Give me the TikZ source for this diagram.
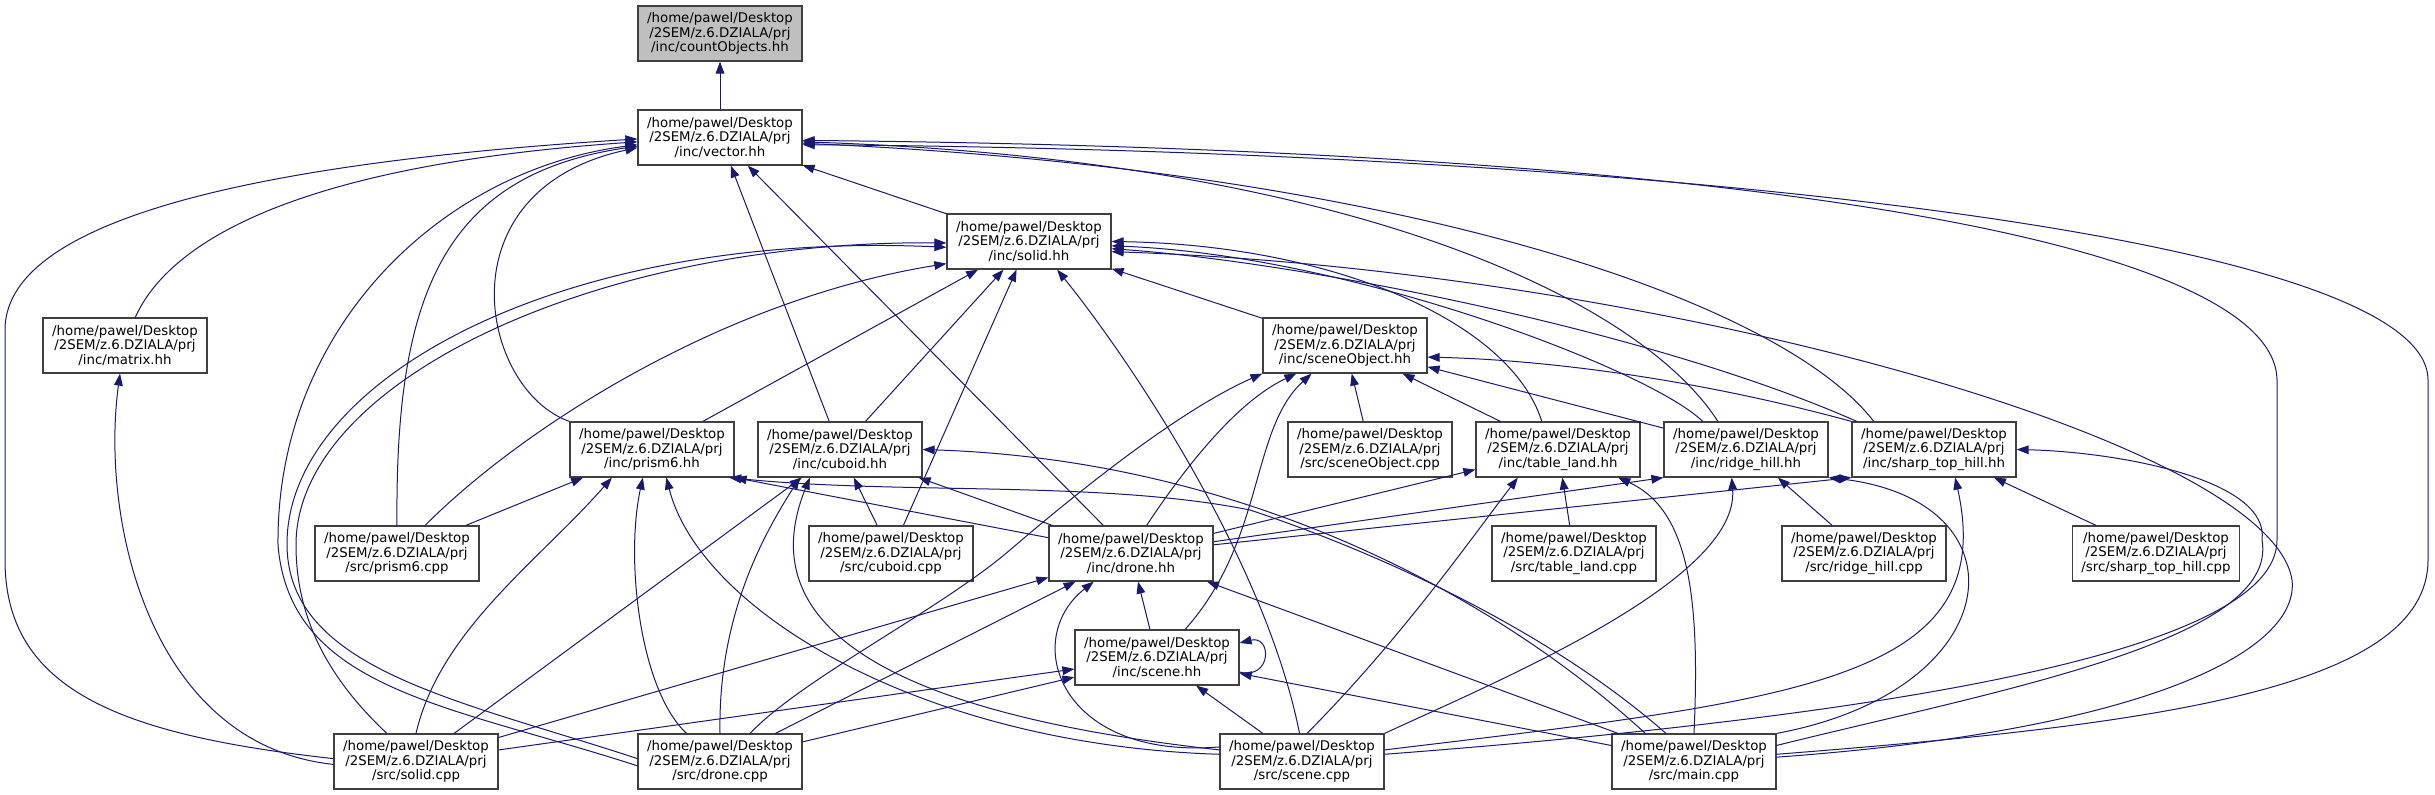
\documentclass[tikz,border=0pt]{standalone}
\usepackage{fontspec}
\setmainfont{DejaVu Sans}
\usetikzlibrary{arrows.meta}

\definecolor{deplink}{HTML}{191970}
\definecolor{boxedge}{HTML}{404040}
\definecolor{boxfill}{HTML}{BFBFBF}

\begin{document}
\begin{tikzpicture}[x=0.75pt, y=-0.75pt,
    file/.style={draw=boxedge, line width=0.9pt, fill=white, align=center,
        minimum width=123pt, minimum height=41.25pt, inner xsep=6.5pt,
        font=\fontsize{10}{10.7}\selectfont},
    dep/.style={draw=deplink, line width=0.75pt, -{Triangle[length=9pt, width=6.5pt]}}]

\useasboundingbox[fill=white] (0,0) rectangle (2435,795);

\node[file, fill=boxfill] (countobj) at (720,33.5) {/home/pawel/Desktop\\/2SEM/z.6.DZIALA/prj\\/inc/countObjects.hh};

\foreach \n/\x/\y/\fdir/\fname in {
    vectorhh/720/137.5/inc/vector.hh, solidhh/1029/241.5/inc/solid.hh,
    matrixhh/125/345.5/inc/matrix.hh, sceneobjhh/1345/345.5/inc/sceneObject.hh,
    prismhh/652/449.5/inc/prism6.hh, cuboidhh/840/449.5/inc/cuboid.hh,
    sceneobjcpp/1370/449.5/src/sceneObject.cpp, tablehh/1558/449.5/inc/table\_land.hh,
    ridgehh/1746/449.5/inc/ridge\_hill.hh, sharphh/1934/449.5/inc/sharp\_top\_hill.hh,
    prismcpp/397/553.5/src/prism6.cpp, cuboidcpp/891/553.5/src/cuboid.cpp,
    dronehh/1131/553.5/inc/drone.hh, tablecpp/1574/553.5/src/table\_land.cpp,
    ridgecpp/1864/553.5/src/ridge\_hill.cpp, sharpcpp/2156/553.5/src/sharp\_top\_hill.cpp,
    scenehh/1157/657.5/inc/scene.hh, solidcpp/416/761.5/src/solid.cpp,
    dronecpp/720/761.5/src/drone.cpp, scenecpp/1302/761.5/src/scene.cpp,
    maincpp/1694/761.5/src/main.cpp} {
    \node[file] (\n) at (\x,\y) {/home/pawel/Desktop\\/2SEM/z.6.DZIALA/prj\\/\fdir/\fname};
}

% straight includes
\foreach \a/\b in {vectorhh/countobj, solidhh/vectorhh, cuboidhh/vectorhh, dronehh/vectorhh,
    prismhh/solidhh, cuboidhh/solidhh, sceneobjhh/solidhh, cuboidcpp/solidhh,
    tablehh/sceneobjhh, ridgehh/sceneobjhh, sceneobjcpp/sceneobjhh,
    prismcpp/prismhh, dronehh/prismhh.south east, cuboidcpp/cuboidhh, dronehh/cuboidhh,
    solidcpp/cuboidhh, solidcpp/scenehh, dronecpp/scenehh, scenecpp/scenehh, maincpp/scenehh,
    scenehh/dronehh, solidcpp/dronehh, dronecpp/dronehh, maincpp/dronehh,
    dronehh/tablehh, tablecpp/tablehh, dronehh/ridgehh.south west, ridgecpp/ridgehh,
    dronehh/sharphh.south west, sharpcpp/sharphh} {
    \draw[dep] (\a) -- (\b);
}

% vector.hh
\draw[dep] (matrixhh.70) .. controls (170,240) and (300,165) .. (vectorhh.183);
\draw[dep] (prismhh.north west) .. controls (480,390) and (440,190) .. (vectorhh.187);
\draw[dep] (prismcpp.north) .. controls (395,300) and (440,175) .. (vectorhh.186);
\draw[dep] (solidcpp.178) .. controls (120,735) and (5,690) .. (5,560) -- (5,330)
    .. controls (5,210) and (300,160) .. (vectorhh.181);
\draw[dep] (dronecpp.183) .. controls (450,705) and (290,690) .. (278,545)
    .. controls (276,330) and (440,170) .. (vectorhh.185);
\draw[dep] (ridgehh.135) .. controls (1640,300) and (1350,160) .. (vectorhh.-3);
\draw[dep] (sharphh.155) .. controls (1780,300) and (1400,170) .. (vectorhh.-4);
\draw[dep] (scenecpp.5) .. controls (1900,715) and (2277,650) .. (2277,540) -- (2277,380)
    .. controls (2275,250) and (1800,150) .. (vectorhh.-2);
\draw[dep] (maincpp.5) .. controls (2150,725) and (2428,690) .. (2428,560) -- (2428,380)
    .. controls (2428,230) and (1600,150) .. (vectorhh.-5);

% solid.hh
\draw[dep] (tablehh.120) .. controls (1510,320) and (1330,245) .. (solidhh.east);
\draw[dep] (ridgehh.147) .. controls (1650,370) and (1350,255) .. (solidhh.-3);
\draw[dep] (sharphh.160) .. controls (1650,330) and (1300,262) .. (solidhh.-5);
\draw[dep] (prismcpp.45) .. controls (520,430) and (720,300) .. (solidhh.195);
\draw[dep] (solidcpp.136) .. controls (330,680) and (296,620) .. (296,545)
    .. controls (296,380) and (600,240) .. (solidhh.181);
\draw[dep] (dronecpp.178) .. controls (460,700) and (288,670) .. (287,545)
    .. controls (286,380) and (560,230) .. (solidhh.184);
\draw[dep] (scenecpp.95) .. controls (1265,560) and (1130,360) .. (solidhh.-45);
\draw[dep] (maincpp.3) .. controls (2150,730) and (2300,650) .. (2292,580)
    .. controls (2270,440) and (1650,270) .. (solidhh.-7);

% matrix.hh
\draw[dep] (solidcpp.182) .. controls (150,745) and (100,520) .. (matrixhh.-100);

% sceneObject.hh
\draw[dep] (sharphh.north west) .. controls (1700,380) and (1550,360) .. (sceneobjhh.-8);
\draw[dep] (dronehh.61) .. controls (1190,460) and (1240,400) .. (sceneobjhh.-150);
\draw[dep] (scenehh.45) .. controls (1265,540) and (1250,430) .. (sceneobjhh.-140);
\draw[dep] (dronecpp.43) .. controls (800,680) and (940,610) .. (1010,550)
    .. controls (1080,490) and (1180,410) .. (sceneobjhh.south west);

% prism6.hh
\draw[dep] (solidcpp.north) .. controls (440,630) and (540,560) .. (prismhh.-145);
\draw[dep] (dronecpp.140) .. controls (640,690) and (625,560) .. (prismhh.-108);
\draw[dep] (scenecpp.175) .. controls (920,745) and (700,610) .. (prismhh.-63);
\draw[dep] (maincpp.135) .. controls (1560,640) and (1400,560) .. (1250,510)
    .. controls (1100,480) and (900,495) .. (prismhh.-20);

% cuboid.hh
\draw[dep] (dronecpp.north) .. controls (718,620) and (760,540) .. (cuboidhh.-145);
\draw[dep] (scenecpp.172) .. controls (950,720) and (740,650) .. (cuboidhh.-137.5);
\draw[dep] (maincpp.150) .. controls (1500,600) and (1250,460) .. (cuboidhh.east);

% scene.hh, drone.hh
\draw[dep] (scenehh.-10) .. controls (1272,680) and (1272,635) .. (scenehh.10);
\draw[dep] (scenecpp.170) .. controls (1060,760) and (1020,640) .. (dronehh.-143);

% hills
\draw[dep] (scenecpp.80) .. controls (1400,640) and (1470,540) .. (tablehh.-145);
\draw[dep] (maincpp.north) .. controls (1700,600) and (1690,510) .. (tablehh.-25);
\draw[dep] (scenecpp.north east) .. controls (1500,680) and (1740,580) .. (ridgehh.-117);
\draw[dep] (maincpp.north east) .. controls (2010,690) and (2030,500) .. (ridgehh.south east);
\draw[dep] (scenecpp.8) .. controls (1800,700) and (2000,680) .. (sharphh.-53);
\draw[dep] (maincpp.11) .. controls (2000,690) and (2280,640) .. (2262,540)
    .. controls (2270,480) and (2120,452) .. (sharphh.east);
\end{tikzpicture}
\end{document}
